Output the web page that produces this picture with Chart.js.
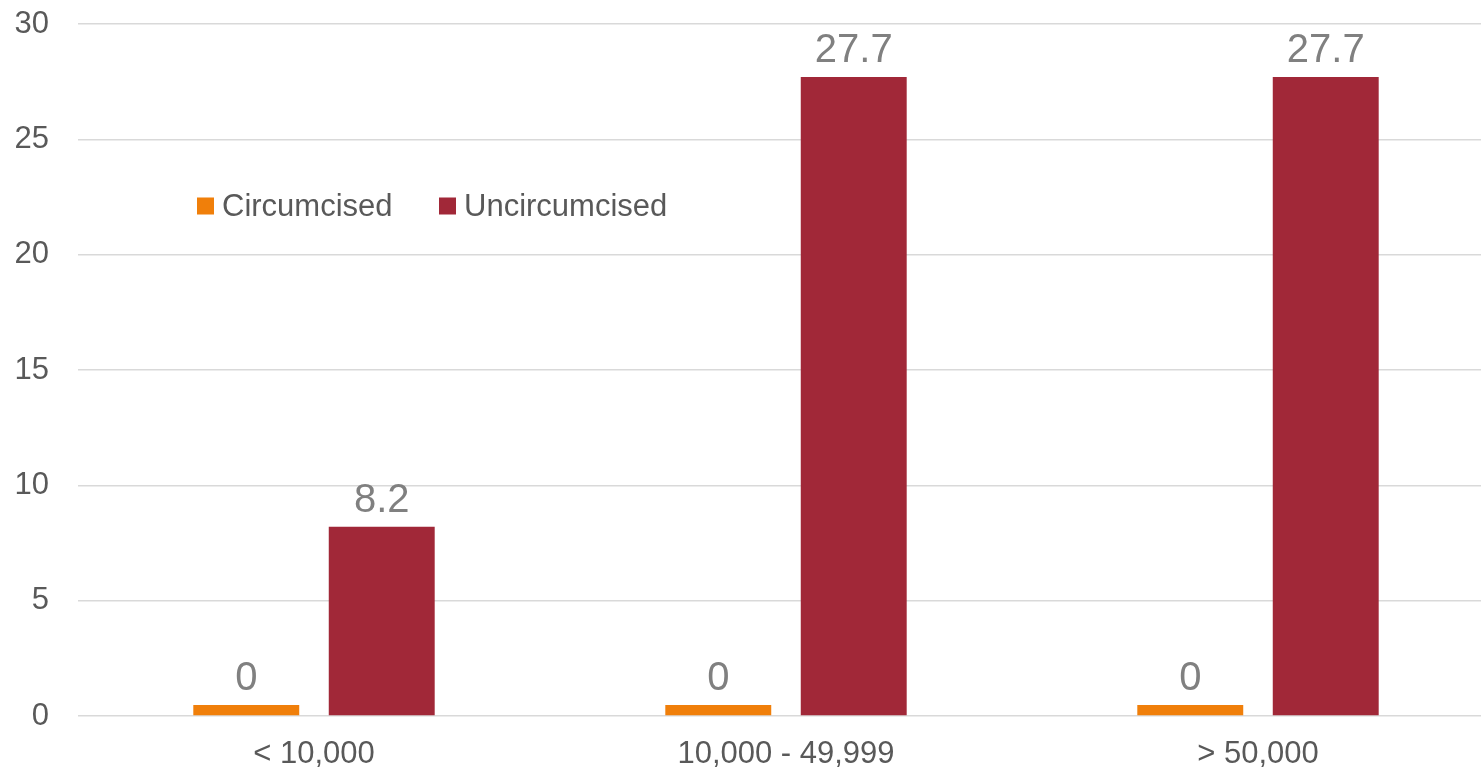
<!DOCTYPE html>
<html>
<head>
<meta charset="utf-8">
<title>Circumcised vs Uncircumcised</title>
<script src="https://cdn.jsdelivr.net/npm/chart.js@4/dist/chart.umd.min.js"></script>
<style>
  html, body { margin: 0; padding: 0; background: #ffffff; overflow: hidden; }
  #chart { display: block; }
</style>
</head>
<body>
<!-- slightly wider than the window: the plot runs past the right edge -->
<canvas id="chart" width="1494" height="770"></canvas>
<script>
// Population size groups and the two series
const categories = ["< 10,000", "10,000 - 49,999", "> 50,000"];
const circumcised = [0, 0, 0];
const uncircumcised = [8.2, 27.7, 27.7];
const yTicks = [0, 5, 10, 15, 20, 25, 30];

const FONT = "'Liberation Sans', Arial, sans-serif";
const ORANGE = "#F07F0A";
const RED = "#A12838";

// Value labels above every bar
const valueLabels = {
    id: "valueLabels",
    afterDatasetsDraw(chart){
        const ctx = chart.ctx;
        ctx.save();
        ctx.font = "40px " + FONT;
        ctx.fillStyle = "#808080";
        ctx.textAlign = "center";
        ctx.textBaseline = "alphabetic";
        chart.data.datasets.forEach((ds, i) => {
            chart.getDatasetMeta(i).data.forEach((bar, j) => {
                ctx.fillText(String(ds.data[j]), bar.x, bar.y - 15);
            });
        });
        ctx.restore();
    }
};

// Legend drawn inside the plot area, upper left
const innerLegend = {
    id: "innerLegend",
    afterDraw(chart){
        const ctx = chart.ctx;
        const xs = [197, 439];
        const cy = 206;
        ctx.save();
        ctx.font = "31px " + FONT;
        ctx.textBaseline = "middle";
        ctx.textAlign = "left";
        chart.data.datasets.forEach((ds, i) => {
            ctx.fillStyle = ds.backgroundColor;
            ctx.fillRect(xs[i], cy - 8.5, 17, 17);
            ctx.fillStyle = "#595959";
            ctx.fillText(ds.label, xs[i] + 25, cy + 1);
        });
        ctx.restore();
    }
};

new Chart(document.getElementById("chart").getContext("2d"), {
    type: "bar",
    data: {
        labels: categories,
        datasets: [{
            label: "Circumcised",
            data: circumcised,
            backgroundColor: ORANGE,
            minBarLength: 11
        },
        {
            label: "Uncircumcised",
            data: uncircumcised,
            backgroundColor: RED
        }]
    },
    options: {
        responsive: false,
        devicePixelRatio: 1,
        animation: false,
        categoryPercentage: 0.574,
        barPercentage: 0.782,
        layout: { padding: { top: 24, right: 0, left: 0, bottom: 0 } },
        plugins: {
            legend: { display: false },
            tooltip: { enabled: false }
        },
        scales: {
            x: {
                grid: { display: false, drawTicks: false },
                border: { display: false },
                ticks: {
                    color: "#595959",
                    font: { family: FONT, size: 31 },
                    padding: 20
                },
                afterFit(scale){
                    scale.height = 54;
                    scale.paddingLeft = 0;
                    scale.paddingRight = 0;
                }
            },
            y: {
                min: 0,
                max: 30,
                afterBuildTicks(scale){ scale.ticks = yTicks.map(v => ({ value: v })); },
                grid: { color: "#D9D9D9", lineWidth: 1.5, drawTicks: false },
                border: { display: false },
                ticks: {
                    color: "#595959",
                    font: { family: FONT, size: 31 },
                    padding: 29
                },
                afterFit(scale){
                    scale.width = 78;
                    scale.paddingTop = 0;
                    scale.paddingBottom = 0;
                }
            }
        }
    },
    plugins: [valueLabels, innerLegend]
});
</script>
</body>
</html>
